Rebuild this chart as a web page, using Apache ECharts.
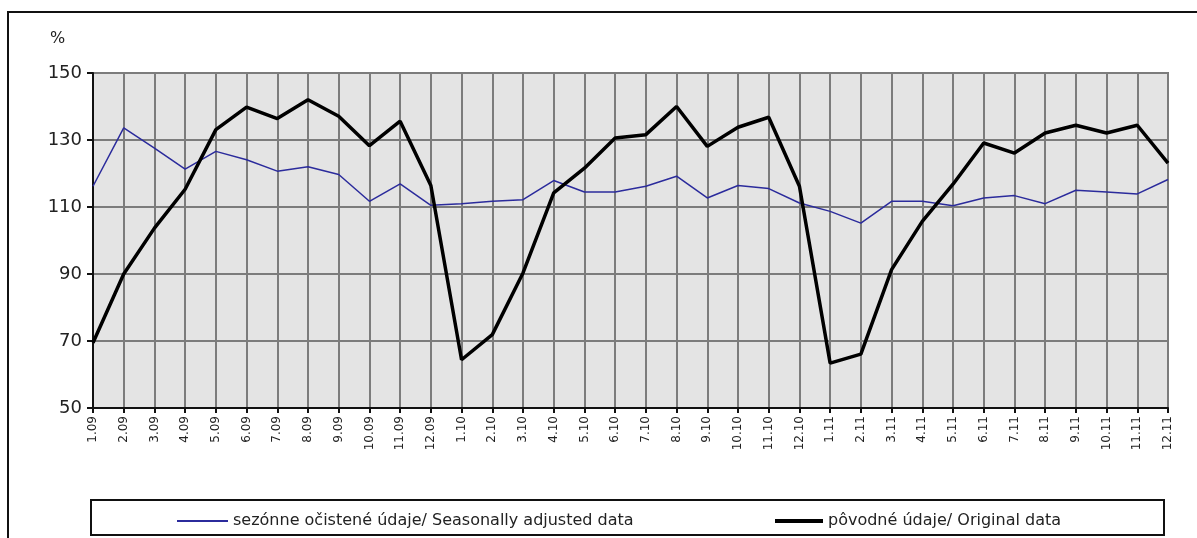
<!DOCTYPE html>
<html>
<head>
<meta charset="utf-8">
<title>Index</title>
<script src="https://cdn.jsdelivr.net/npm/echarts@6/dist/echarts.min.js"></script>
<style>
  html, body { margin: 0; padding: 0; background: #fff; }
  #chart { width: 1197px; height: 538px; }
</style>
</head>
<body>
<div id="chart"></div>
<script>
// mesiace 2009 - 2011
const months = [
  '1.09', '2.09', '3.09', '4.09', '5.09', '6.09', '7.09', '8.09', '9.09', '10.09', '11.09', '12.09',
  '1.10', '2.10', '3.10', '4.10', '5.10', '6.10', '7.10', '8.10', '9.10', '10.10', '11.10', '12.10',
  '1.11', '2.11', '3.11', '4.11', '5.11', '6.11', '7.11', '8.11', '9.11', '10.11', '11.11', '12.11'
]

// sezónne očistené údaje
const adjusted = [
  116.2, 133.6, 127.6, 121.3, 126.6, 124.1, 120.7, 122.0, 119.7, 111.7, 116.9, 110.5,
  111.0, 111.7, 112.2, 117.9, 114.5, 114.5, 116.2, 119.2, 112.7, 116.4, 115.5, 111.2,
  108.7, 105.2, 111.7, 111.7, 110.4, 112.7, 113.4, 111.0, 115.0, 114.5, 113.9, 118.2
]

// pôvodné údaje
const original = [
  69.5, 90.0, 103.7, 115.3, 133.1, 139.8, 136.4, 142.0, 137.1, 128.3, 135.6, 116.4,
  64.4, 71.9, 90.3, 114.2, 121.6, 130.6, 131.6, 140.0, 128.1, 133.8, 136.8, 116.2,
  63.4, 66.1, 91.3, 105.7, 116.8, 129.1, 126.1, 132.1, 134.4, 132.1, 134.4, 123.1
]

const yMin = 50
const yMax = 150
const yStep = 20

const seriesNames = [
  'sezónne očistené údaje/ Seasonally adjusted data',
  'pôvodné údaje/ Original data'
]

const FONT = 'DejaVu Sans, Verdana, sans-serif'

const chart = echarts.init(document.getElementById('chart'))

const legendText = {
  color: '#222',
  fontFamily: FONT,
  fontSize: 16
}

const option = {
  animation: false,
  textStyle: { fontFamily: FONT },
  grid: {
    left: 93,
    right: 29,
    top: 73,
    bottom: 130,
    show: true,
    backgroundColor: '#e4e4e4',
    borderColor: '#111',
    borderWidth: 1.5
  },
  graphic: [
    // vonkajší rámček
    {
      type: 'rect',
      shape: { x: 8, y: 12, width: 1200, height: 540 },
      style: { fill: 'none', stroke: '#111', lineWidth: 2 },
      silent: true,
      z: -1
    },
    // rámček legendy
    {
      type: 'rect',
      shape: { x: 91, y: 500, width: 1073, height: 35 },
      style: { fill: 'none', stroke: '#111', lineWidth: 2 },
      silent: true
    },
    {
      type: 'text',
      left: 50,
      top: 31,
      style: {
        text: '%',
        fill: '#222',
        fontSize: 16,
        fontFamily: FONT
      }
    }
  ],
  legend: [
    {
      data: [seriesNames[0]],
      left: 172,
      top: 508,
      icon: 'rect',
      itemWidth: 51,
      itemHeight: 2,
      textStyle: legendText
    },
    {
      data: [seriesNames[1]],
      left: 770,
      top: 508,
      icon: 'rect',
      itemWidth: 48,
      itemHeight: 4,
      textStyle: legendText
    }
  ],
  xAxis: {
    type: 'category',
    boundaryGap: false,
    data: months,
    axisLine: { lineStyle: { color: '#111', width: 2 } },
    axisTick: {
      show: true,
      alignWithLabel: true,
      length: 5,
      lineStyle: { color: '#111', width: 2 }
    },
    axisLabel: {
      rotate: 90,
      interval: 0,
      margin: 8,
      fontSize: 12,
      color: '#222'
    },
    splitLine: {
      show: true,
      interval: 0,
      lineStyle: { color: '#7c7c7c', width: 2 }
    }
  },
  yAxis: {
    type: 'value',
    min: yMin,
    max: yMax,
    interval: yStep,
    axisLine: { show: true, lineStyle: { color: '#111', width: 2 } },
    axisTick: {
      show: true,
      length: 6,
      lineStyle: { color: '#111', width: 2 }
    },
    axisLabel: {
      margin: 11,
      fontSize: 18,
      color: '#222'
    },
    splitLine: {
      lineStyle: { color: '#7c7c7c', width: 2 }
    }
  },
  series: [
    {
      name: seriesNames[0],
      type: 'line',
      symbol: 'none',
      data: adjusted,
      color: '#2b2b9c',
      lineStyle: { width: 1.5, color: '#2b2b9c' },
      z: 3
    },
    {
      name: seriesNames[1],
      type: 'line',
      symbol: 'none',
      data: original,
      color: '#000',
      lineStyle: { width: 3.5, color: '#000' },
      z: 4
    }
  ]
}

chart.setOption(option)

window.addEventListener('resize', () => chart.resize())
</script>
</body>
</html>
